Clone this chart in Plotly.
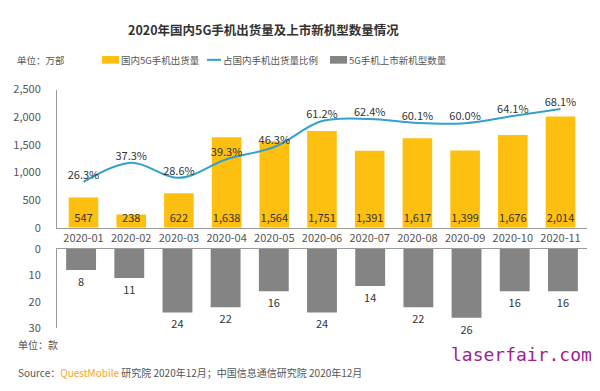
import plotly.graph_objects as go

months = ["2020-01", "2020-02", "2020-03", "2020-04", "2020-05", "2020-06",
          "2020-07", "2020-08", "2020-09", "2020-10", "2020-11"]
shipments = [547, 238, 622, 1638, 1564, 1751, 1391, 1617, 1399, 1676, 2014]
share_pct = [26.3, 37.3, 28.6, 39.3, 46.3, 61.2, 62.4, 60.1, 60.0, 64.1, 68.1]
new_models = [8, 11, 24, 22, 16, 24, 14, 22, 26, 16, 16]

FONT = "Noto Sans CJK SC"
W, H = 600, 391
def py(p):  # pixel y -> paper
    return 1 - p / H
def px(p):
    return p / W

fig = go.Figure()

fig.add_trace(go.Bar(
    x=months, y=shipments, xaxis="x", yaxis="y",
    marker=dict(color="#FDC010", line=dict(width=0)),
    text=[f"{v:,}" for v in shipments], textposition="inside", textangle=0,
    insidetextanchor="start", constraintext="none",
    textfont=dict(size=11, color="#333333", family=FONT),
    name="国内5G手机出货量", showlegend=False, hoverinfo="skip"))

fig.add_trace(go.Scatter(
    x=months, y=share_pct, xaxis="x", yaxis="y3",
    mode="lines+text", line=dict(color="#34A0CB", width=2, shape="spline", smoothing=1),
    text=[f"{v:.1f}%" for v in share_pct], textposition="top center",
    textfont=dict(size=11, color="#333333", family=FONT),
    name="占国内手机出货量比例", showlegend=False, cliponaxis=False, hoverinfo="skip"))

fig.add_trace(go.Bar(
    x=months, y=new_models, xaxis="x2", yaxis="y2",
    marker=dict(color="#848484", line=dict(width=0)),
    text=[str(v) for v in new_models], textposition="outside", textangle=0,
    constraintext="none",
    textfont=dict(size=11, color="#333333", family=FONT),
    name="5G手机上市新机型数量", showlegend=False, cliponaxis=False, hoverinfo="skip"))

xdom = [px(57), px(587)]
axis_color = "#9a9a9a"
tick_font = dict(size=11, color="#555555", family=FONT)

fig.update_layout(
    width=W, height=H, margin=dict(l=0, r=0, t=0, b=0),
    paper_bgcolor="white", plot_bgcolor="rgba(0,0,0,0)",
    bargap=0.38, showlegend=False, hovermode=False,
    font=dict(family=FONT, color="#333333"),
    xaxis=dict(domain=xdom, anchor="y", type="category", showline=True,
               linecolor=axis_color, linewidth=1, showgrid=False, ticks="",
               tickfont=tick_font, zeroline=False),
    yaxis=dict(domain=[py(228), py(84)], anchor="x", range=[0, 2500],
               tickvals=[0, 500, 1000, 1500, 2000, 2500],
               ticktext=["0", "500", "1,000", "1,500", "2,000", "2,500"],
               showline=True, linecolor=axis_color, linewidth=1, showgrid=False,
               zeroline=False, tickfont=tick_font, ticklabelstandoff=13),
    yaxis3=dict(overlaying="y", range=[0, 79.3], visible=False, anchor="x"),
    xaxis2=dict(domain=xdom, anchor="y2", type="category", side="top",
                showline=True, linecolor=axis_color, linewidth=1, showgrid=False,
                showticklabels=False, ticks="", zeroline=False),
    yaxis2=dict(domain=[py(333), py(250)], anchor="x2", range=[30, 0],
                tickvals=[0, 10, 20, 30], showline=True, linecolor=axis_color,
                linewidth=1, showgrid=False, zeroline=False, tickfont=tick_font,
                ticklabelstandoff=13),
)

annotations = [
    dict(text="<b>2020年国内5G手机出货量及上市新机型数量情况</b>", x=px(263), y=py(21),
         font=dict(size=12.5, color="#333333", family=FONT)),
    dict(text="单位：万部", x=px(15), y=py(53), xanchor="left",
         font=dict(size=9.5, color="#555555", family=FONT)),
    dict(text="国内5G手机出货量", x=px(119), y=py(53), xanchor="left",
         font=dict(size=9.5, color="#555555", family=FONT)),
    dict(text="占国内手机出货量比例", x=px(221), y=py(53), xanchor="left",
         font=dict(size=9.5, color="#555555", family=FONT)),
    dict(text="5G手机上市新机型数量", x=px(347), y=py(53), xanchor="left",
         font=dict(size=9.5, color="#555555", family=FONT)),
    dict(text="单位：款", x=px(16), y=py(350), xanchor="left",
         font=dict(size=10, color="#555555", family=FONT)),
    dict(text="Source：<span style='color:#F5A623'>QuestMobile</span> 研究院 2020年12月；中国信息通信研究院 2020年12月",
         x=px(16), y=py(379), xanchor="left",
         font=dict(size=10, color="#555555", family=FONT)),
    dict(text="laserfair.com", x=px(594), y=py(360), xanchor="right",
         font=dict(size=18, color="#9C1F8C", family="DejaVu Sans Mono")),
]
for a in annotations:
    a.update(xref="paper", yref="paper", showarrow=False, yanchor="middle")
    a.setdefault("xanchor", "center")
fig.update_layout(annotations=annotations)

shapes = [
    dict(type="rect", x0=px(102), x1=px(119), y0=py(57), y1=py(49),
         fillcolor="#FDC010", line=dict(width=0)),
    dict(type="line", x0=px(207), x1=px(221), y0=py(53), y1=py(53),
         line=dict(color="#34A0CB", width=2)),
    dict(type="rect", x0=px(330), x1=px(347), y0=py(57), y1=py(49),
         fillcolor="#848484", line=dict(width=0)),
]
for s in shapes:
    s.update(xref="paper", yref="paper")
fig.update_layout(shapes=shapes)

post = """
document.documentElement.style.margin='0';
document.documentElement.style.padding='0';
document.documentElement.style.overflow='hidden';
document.body.style.margin='0';
document.body.style.padding='0';
document.body.style.overflow='hidden';
"""
fig.write_html("out.html", config={"displayModeBar": False},
               post_script=post)
